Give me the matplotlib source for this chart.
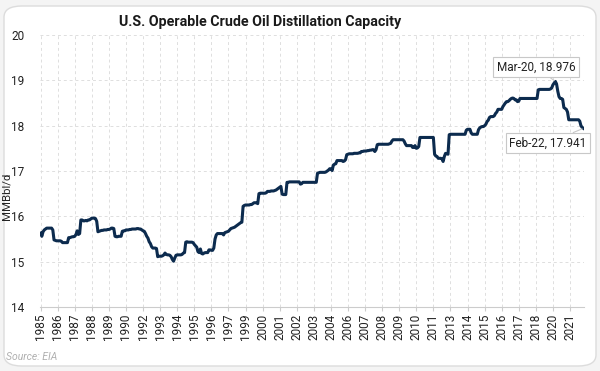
import matplotlib
matplotlib.use("Agg")
import matplotlib.pyplot as plt
from matplotlib.patches import FancyBboxPatch
import pandas as pd

# Monthly operable crude distillation capacity (MMBbl/d), Jan-1985 .. Feb-2022
cap_1985_1989 = [
    15.63, 15.56, 15.66, 15.70, 15.72, 15.74, 15.74, 15.74, 15.74, 15.74, 15.70, 15.48,
    15.47, 15.46, 15.46, 15.46, 15.46, 15.45, 15.42, 15.42, 15.42, 15.42, 15.42, 15.53,
    15.53, 15.54, 15.55, 15.55, 15.56, 15.60, 15.68, 15.60, 15.62, 15.92, 15.92, 15.90,
    15.90, 15.91, 15.90, 15.92, 15.92, 15.94, 15.96, 15.96, 15.96, 15.95, 15.89, 15.66,
    15.67, 15.68, 15.69, 15.69, 15.70, 15.70, 15.70, 15.71, 15.71, 15.72, 15.74, 15.74,
]
cap_1990_1999 = [
    15.73, 15.56, 15.55, 15.55, 15.56, 15.56, 15.56, 15.67, 15.68, 15.68, 15.70, 15.70,
    15.70, 15.71, 15.71, 15.72, 15.72, 15.72, 15.72, 15.73, 15.73, 15.72, 15.72, 15.70,
    15.68, 15.67, 15.62, 15.56, 15.52, 15.44, 15.40, 15.33, 15.30, 15.30, 15.30, 15.29,
    15.11, 15.12, 15.12, 15.12, 15.13, 15.15, 15.19, 15.16, 15.15, 15.15, 15.14, 15.11,
    15.05, 15.01, 15.08, 15.14, 15.15, 15.15, 15.15, 15.15, 15.16, 15.19, 15.20, 15.43,
    15.44, 15.43, 15.43, 15.43, 15.43, 15.42, 15.38, 15.35, 15.32, 15.22, 15.20, 15.28,
    15.18, 15.17, 15.19, 15.20, 15.20, 15.20, 15.26, 15.26, 15.25, 15.25, 15.30, 15.50,
    15.59, 15.62, 15.62, 15.62, 15.62, 15.62, 15.59, 15.64, 15.65, 15.66, 15.67, 15.70,
    15.73, 15.74, 15.75, 15.76, 15.78, 15.80, 15.82, 15.84, 15.86, 15.87, 16.22, 16.24,
    16.25, 16.25, 16.25, 16.25, 16.26, 16.26, 16.28, 16.30, 16.30, 16.30, 16.28, 16.50,
]
cap_2000_2009 = [
    16.51, 16.51, 16.51, 16.51, 16.51, 16.52, 16.55, 16.55, 16.55, 16.56, 16.56, 16.56,
    16.57, 16.58, 16.60, 16.62, 16.64, 16.66, 16.49, 16.48, 16.48, 16.48, 16.75, 16.75,
    16.76, 16.76, 16.76, 16.76, 16.76, 16.76, 16.76, 16.76, 16.76, 16.71, 16.72, 16.75,
    16.75, 16.75, 16.75, 16.75, 16.75, 16.75, 16.75, 16.75, 16.75, 16.75, 16.75, 16.95,
    16.96, 16.97, 16.97, 16.97, 16.97, 16.97, 16.98, 17.00, 17.02, 17.05, 17.05, 17.01,
    17.13, 17.15, 17.16, 17.23, 17.23, 17.23, 17.23, 17.23, 17.21, 17.22, 17.25, 17.36,
    17.37, 17.38, 17.38, 17.38, 17.38, 17.39, 17.39, 17.39, 17.39, 17.40, 17.40, 17.43,
    17.43, 17.44, 17.44, 17.44, 17.45, 17.45, 17.46, 17.46, 17.47, 17.47, 17.43, 17.47,
    17.58, 17.59, 17.59, 17.59, 17.59, 17.59, 17.59, 17.59, 17.59, 17.59, 17.60, 17.61,
    17.66, 17.69, 17.69, 17.69, 17.69, 17.69, 17.69, 17.69, 17.69, 17.69, 17.66, 17.60,
]
cap_2010_2022 = [
    17.56, 17.56, 17.56, 17.56, 17.56, 17.52, 17.52, 17.56, 17.50, 17.51, 17.54, 17.74,
    17.74, 17.74, 17.74, 17.74, 17.74, 17.74, 17.74, 17.74, 17.74, 17.74, 17.74, 17.37,
    17.33, 17.32, 17.28, 17.28, 17.28, 17.27, 17.21, 17.32, 17.39, 17.38, 17.37, 17.80,
    17.81, 17.81, 17.81, 17.81, 17.81, 17.81, 17.81, 17.81, 17.81, 17.81, 17.81, 17.81,
    17.81, 17.90, 17.92, 17.92, 17.92, 17.84, 17.81, 17.81, 17.81, 17.81, 17.81, 17.91,
    17.95, 17.97, 17.98, 17.98, 18.00, 18.03, 18.09, 18.12, 18.18, 18.20, 18.20, 18.20,
    18.22, 18.27, 18.30, 18.36, 18.36, 18.36, 18.36, 18.42, 18.46, 18.50, 18.53, 18.53,
    18.55, 18.58, 18.60, 18.61, 18.60, 18.57, 18.57, 18.53, 18.54, 18.60, 18.60, 18.60,
    18.60, 18.60, 18.60, 18.60, 18.60, 18.60, 18.60, 18.60, 18.60, 18.60, 18.60, 18.60,
    18.79, 18.80, 18.80, 18.80, 18.80, 18.80, 18.80, 18.80, 18.80, 18.80, 18.81, 18.83,
    18.90, 18.94, 18.976, 18.92, 18.76, 18.64, 18.60, 18.60, 18.58, 18.40, 18.38, 18.36,
    18.30, 18.13, 18.13, 18.13, 18.13, 18.13, 18.13, 18.13, 18.13, 18.13, 18.10, 18.00,
    17.96, 17.941,
]
start_month = "1985-01"
y_ticks = [14, 15, 16, 17, 18, 19, 20]
tick_step_months = 14
callouts = [("Mar-20", "2020-03"), ("Feb-22", "2022-02")]

values = cap_1985_1989 + cap_1990_1999 + cap_2000_2009 + cap_2010_2022
dates = pd.date_range(start_month, periods=len(values), freq="MS")
idx = list(range(len(values)))

plt.rcParams["font.family"] = ["Roboto", "DejaVu Sans"]

W, H = 600, 371
fig = plt.figure(figsize=(W / 100, H / 100), dpi=100)
fig.patch.set_facecolor("#f4f4f4")
card = FancyBboxPatch((4 / W, 5 / H), 592 / W, 360 / H,
                      boxstyle="round,pad=0,rounding_size=0.03",
                      transform=fig.transFigure, facecolor="white",
                      edgecolor="#dcdcdc", linewidth=1.0, zorder=-10)
fig.patches.append(card)

ax = fig.add_axes([40 / W, (H - 307) / H, 544 / W, 272 / H])
ax.set_zorder(2)
ax.set_facecolor("none")
line_color = "#0c2b4e"
ax.plot(idx, values, color=line_color, lw=2.2, solid_joinstyle="round", zorder=3)

ax.set_xlim(-0.5, len(values) - 0.5)
ax.set_ylim(14, 20)
ax.set_yticks(y_ticks)
ticks = list(range(0, len(values), tick_step_months))
ax.set_xticks(ticks)
ax.set_xticklabels([str(dates[t].year) for t in ticks], rotation=90)
ax.tick_params(axis="x", length=3, color="#cccccc", labelsize=8.5, labelcolor="#222222", pad=2)
ax.tick_params(axis="y", length=0, labelsize=8.5, labelcolor="#222222", pad=11)
ax.grid(True, color="#dedede", linestyle=(0, (3, 3)), linewidth=0.7)
for s in ["top", "right", "left"]:
    ax.spines[s].set_visible(False)
ax.spines["bottom"].set_color("#cccccc")

fig.text(7 / W, (H - 196) / H, "MMBbl/d", rotation=90, ha="center", va="center",
         fontsize=8.2, color="#222222", zorder=3)
fig.text(260 / W, (H - 22) / H, "U.S. Operable Crude Oil Distillation Capacity",
         ha="center", va="center", fontsize=10.3, fontweight="bold", color="#1a1a1a", zorder=3)
fig.text(6 / W, (H - 357) / H, "Source: EIA", ha="left", va="center", fontsize=7.5,
         style="italic", color="#b0b0b0", zorder=3)

text_pos = [(536, H - 67), (548, H - 143)]
for (lab, d), (tx, ty) in zip(callouts, text_pos):
    i = list(dates.strftime("%Y-%m")).index(d)
    v = values[i]
    ax.annotate(f"{lab}, {v:.3f}", xy=(i, v), xycoords="data",
                xytext=(tx, ty), textcoords="figure pixels",
                ha="center", va="center", fontsize=8.5, color="#222222",
                bbox=dict(boxstyle="square,pad=0.3", fc="white", ec="#c8c8c8", lw=0.8),
                arrowprops=dict(arrowstyle="-", color="#c8c8c8", lw=0.8,
                                shrinkA=0, shrinkB=1),
                zorder=5)

fig.savefig("out.png", dpi=100)
